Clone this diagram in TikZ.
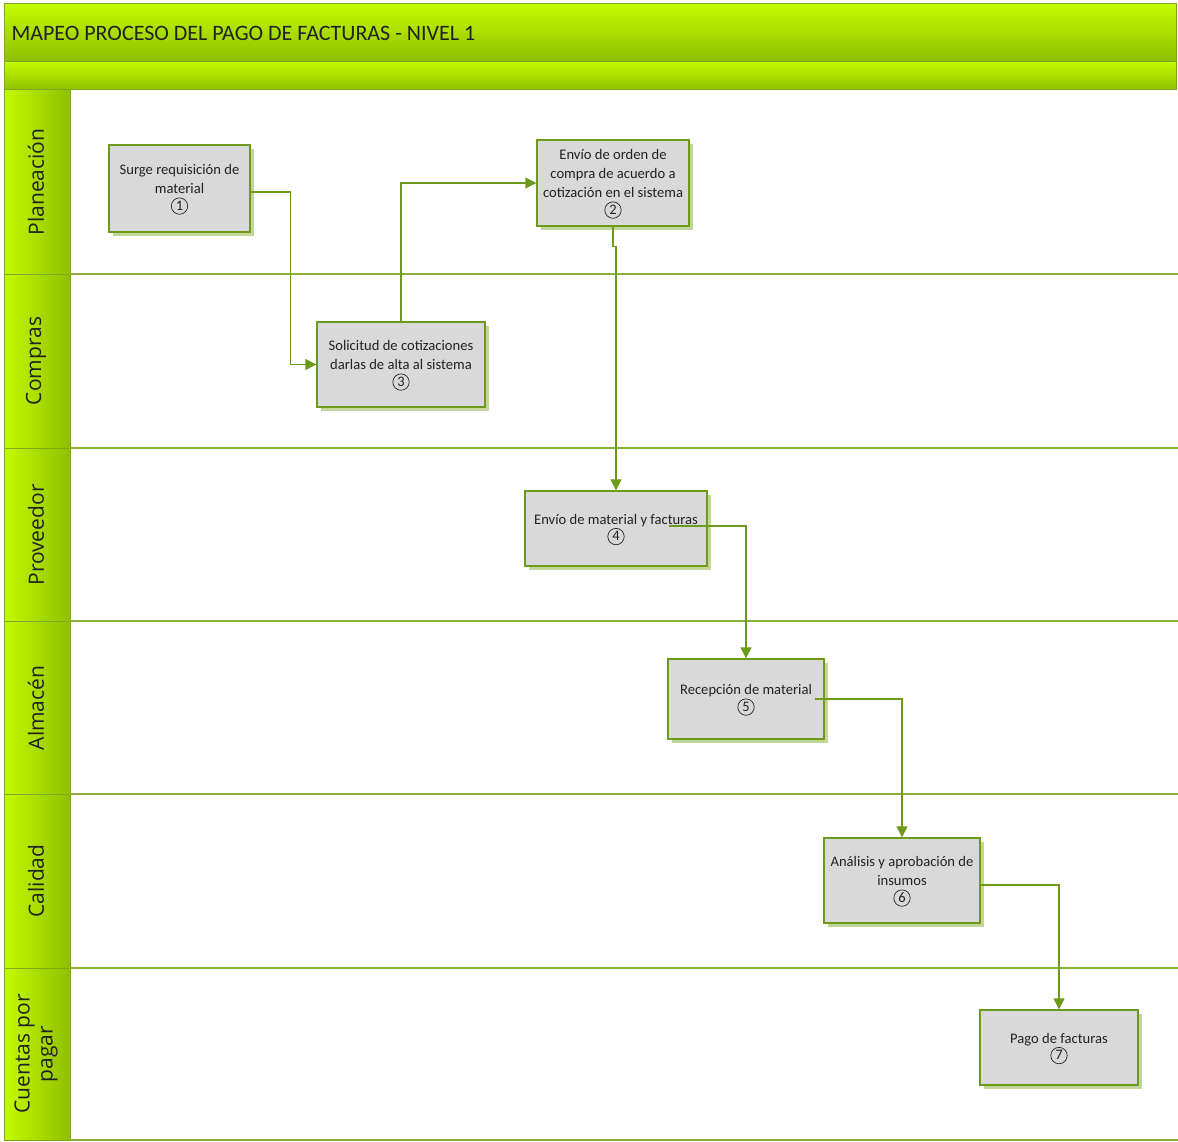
\documentclass[tikz,border=0pt]{standalone}
\usepackage{fontspec}
\setmainfont{Carlito}
\newfontfamily\lanefont{Open Sans}
\usetikzlibrary{shadows,arrows.meta,calc}
\definecolor{limelight}{HTML}{C4FA00}
\definecolor{limedark}{HTML}{8FBF00}
\definecolor{bandedge}{HTML}{7FA81E}
\definecolor{boxedge}{HTML}{6E9A1A}
\definecolor{boxfill}{HTML}{D9D9D9}
\definecolor{shadowc}{HTML}{C3D69A}
\definecolor{lanerule}{HTML}{8AB236}
\definecolor{flowc}{HTML}{6E9A1A}
\definecolor{txt}{HTML}{222222}
% circled step number: a thin ring round the digit, kept out of the line spacing
\newcommand{\cn}[1]{\smash{\tikz[x=1pt,y=1pt,baseline=-6.5pt]{%
  \draw[txt, line width=0.7pt] (0,0) circle (8.2pt);
  \node[inner sep=0pt, minimum width=0pt, minimum height=0pt, draw=none,
    fill=none, text=txt, font=\fontsize{14.5}{14.5}\selectfont] at (0,0.3) {#1};}}}
\begin{document}
\begin{tikzpicture}[x=1pt,y=-1pt,
  proc/.style={draw=boxedge, line width=1.4pt, fill=boxfill, align=center,
    text=txt, font=\fontsize{14.6}{19}\selectfont, inner sep=2pt,
    drop shadow={shadow xshift=4pt, shadow yshift=-4pt, fill=shadowc, opacity=1}},
  flow/.style={draw=flowc, line width=1.3pt,
    -{Triangle[length=11pt,width=11pt]}},
  lanelabel/.style={rotate=90, font=\lanefont\fontsize{21}{23}\selectfont,
    text=txt, align=center},
  rule/.style={draw=lanerule, line width=1.2pt}]
\useasboundingbox (0,0) rectangle (1178,1142);
\fill[white] (0,0) rectangle (1178,1142);

% title bands
\shade[top color=limelight, bottom color=limedark] (4,4) rectangle (1176,62);
\shade[top color=limelight, bottom color=limedark] (4,62) rectangle (1176,90);
\draw[bandedge, line width=1pt] (4,4) rectangle (1176,62);
\draw[bandedge, line width=1pt] (4,62) rectangle (1176,90);
\node[anchor=west, font=\fontsize{22}{24}\selectfont, text=txt] (title) at (8,33)
  {MAPEO PROCESO DEL PAGO DE FACTURAS - NIVEL 1};

% lane header column
\shade[left color=limelight, right color=limedark] (4,90) rectangle (70,1140);
\foreach \ya/\yb in {90/274,274/448,448/621,621/794,794/968,968/1140}
  \draw[bandedge, line width=1pt] (4,\ya) rectangle (70,\yb);

% lane rules
\foreach \y in {274,448,621,794,968,1140}
  \draw[rule] (70,\y) -- (1178,\y);

% lane labels
\node[lanelabel] (l1) at (36,182) {Planeación};
\node[lanelabel] (l2) at (36,361) {Compras};
\node[lanelabel] (l3) at (36,535) {Proveedor};
\node[lanelabel] (l4) at (36,708) {Almacén};
\node[lanelabel] (l5) at (36,881) {Calidad};
\node[lanelabel] (l6) at (36,1054) {Cuentas por\\pagar};

% process steps
\node[proc, minimum width=141, minimum height=87] (n1) at (179.5,188.5)
  {Surge requisición de\\material\\\cn{1}};
\node[proc, minimum width=152, minimum height=86] (n2) at (613,183)
  {Envío de orden de\\compra de acuerdo a\\cotización en el sistema\\\cn{2}};
\node[proc, minimum width=168, minimum height=85] (n3) at (401,364.5)
  {Solicitud de cotizaciones\\darlas de alta al sistema\\\cn{3}};
\node[proc, minimum width=182, minimum height=75] (n4) at (616,528.5)
  {Envío de material y facturas\\\cn{4}};
\node[proc, minimum width=156, minimum height=80] (n5) at (746,699)
  {Recepción de material\\\cn{5}};
\node[proc, minimum width=156, minimum height=85] (n6) at (902,880.5)
  {Análisis y aprobación de\\insumos\\\cn{6}};
\node[proc, minimum width=158, minimum height=75] (n7) at (1059,1047.5)
  {Pago de facturas\\\cn{7}};

% connectors
\coordinate (s4) at ([xshift=-39pt,yshift=2.5pt]n4.east);
\coordinate (s5) at ([xshift=-10pt]n5.east);
\coordinate (s6) at ([yshift=-4.5pt]n6.east);
\draw[flow] ([yshift=-3.5pt]n1.east) -- ++(40,0) |- (n3.west);
\draw[flow] (n3.north) |- (n2.west);
\draw[flow] (n2.south) -- ++(0,20) -| (n4.north);
\draw[flow] (s4) -| (n5.north);
\draw[flow] (s5) -| (n6.north);
\draw[flow] (s6) -| (n7.north);
\end{tikzpicture}
\end{document}
